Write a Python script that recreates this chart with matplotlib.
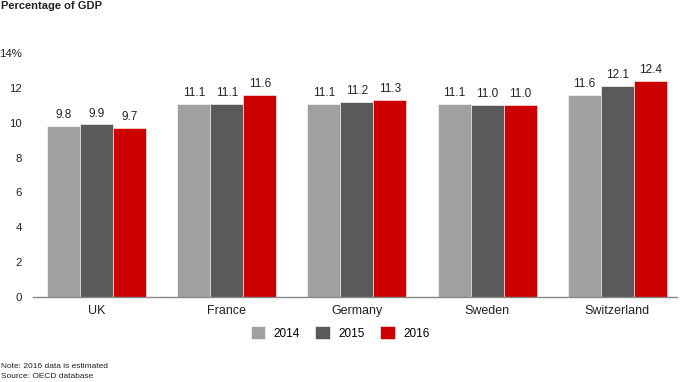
import numpy as np
import matplotlib.pyplot as plt

# Данные
countries = ['UK', 'France', 'Germany', 'Sweden', 'Switzerland']
years = ['2014', '2015', '2016']
v2014 = [9.8, 11.1, 11.1, 11.1, 11.6]
v2015 = [9.9, 11.1, 11.2, 11.0, 12.1]
v2016 = [9.7, 11.6, 11.3, 11.0, 12.4]
colors = ['#a0a0a0', '#5a5a5a', '#cc0000']

plt.rcParams['font.family'] = ['Liberation Sans', 'DejaVu Sans']

fig = plt.figure(figsize=(6.8, 3.82), dpi=100)
ax = fig.add_axes([0.0485, 0.2225, 0.947, 0.6387])

x = np.arange(len(countries))
w = 0.2534
for k, (vals, lab) in enumerate(zip([v2014, v2015, v2016], years)):
    bars = ax.bar(x + (k - 1) * w, vals, w, color=colors[k], label=lab,
                  edgecolor='white', linewidth=0.4)
    for b, v in zip(bars, vals):
        ax.text(b.get_x() + b.get_width() / 2, v + 0.28, f'{v:.1f}',
                ha='center', va='bottom', fontsize=8.5, color='#222222')

ax.set_xlim(-0.4875, 4.457)
ax.set_ylim(0, 14)
ax.set_yticks([0, 2, 4, 6, 8, 10, 12, 14])
ax.set_yticklabels(['0', '2', '4', '6', '8', '10', '12', '14%'])
ax.set_xticks(x)
ax.set_xticklabels(countries)
ax.tick_params(axis='both', length=0, colors='#222222')
ax.tick_params(axis='y', pad=8, labelsize=8.2)
ax.tick_params(axis='x', pad=6, labelsize=9)
for s in ['top', 'right', 'left']:
    ax.spines[s].set_visible(False)
ax.spines['bottom'].set_color('#888888')
ax.spines['bottom'].set_linewidth(1.0)

fig.legend(loc='center', bbox_to_anchor=(0.5, 1 - 333 / 382), ncol=3,
           frameon=False, fontsize=8.5, handlelength=1.25, handleheight=1.25,
           columnspacing=1.3, handletextpad=0.7)

fig.text(0.002, 0.983, 'Percentage of GDP', fontsize=8, fontweight='bold',
         va='center', ha='left', color='#222222')
fig.text(0.002, 1 - 367 / 382, 'Note: 2016 data is estimated', fontsize=6,
         va='center', ha='left', color='#222222')
fig.text(0.002, 1 - 376 / 382, 'Source: OECD database', fontsize=6,
         va='center', ha='left', color='#222222')

fig.savefig('out.png', dpi=100)
